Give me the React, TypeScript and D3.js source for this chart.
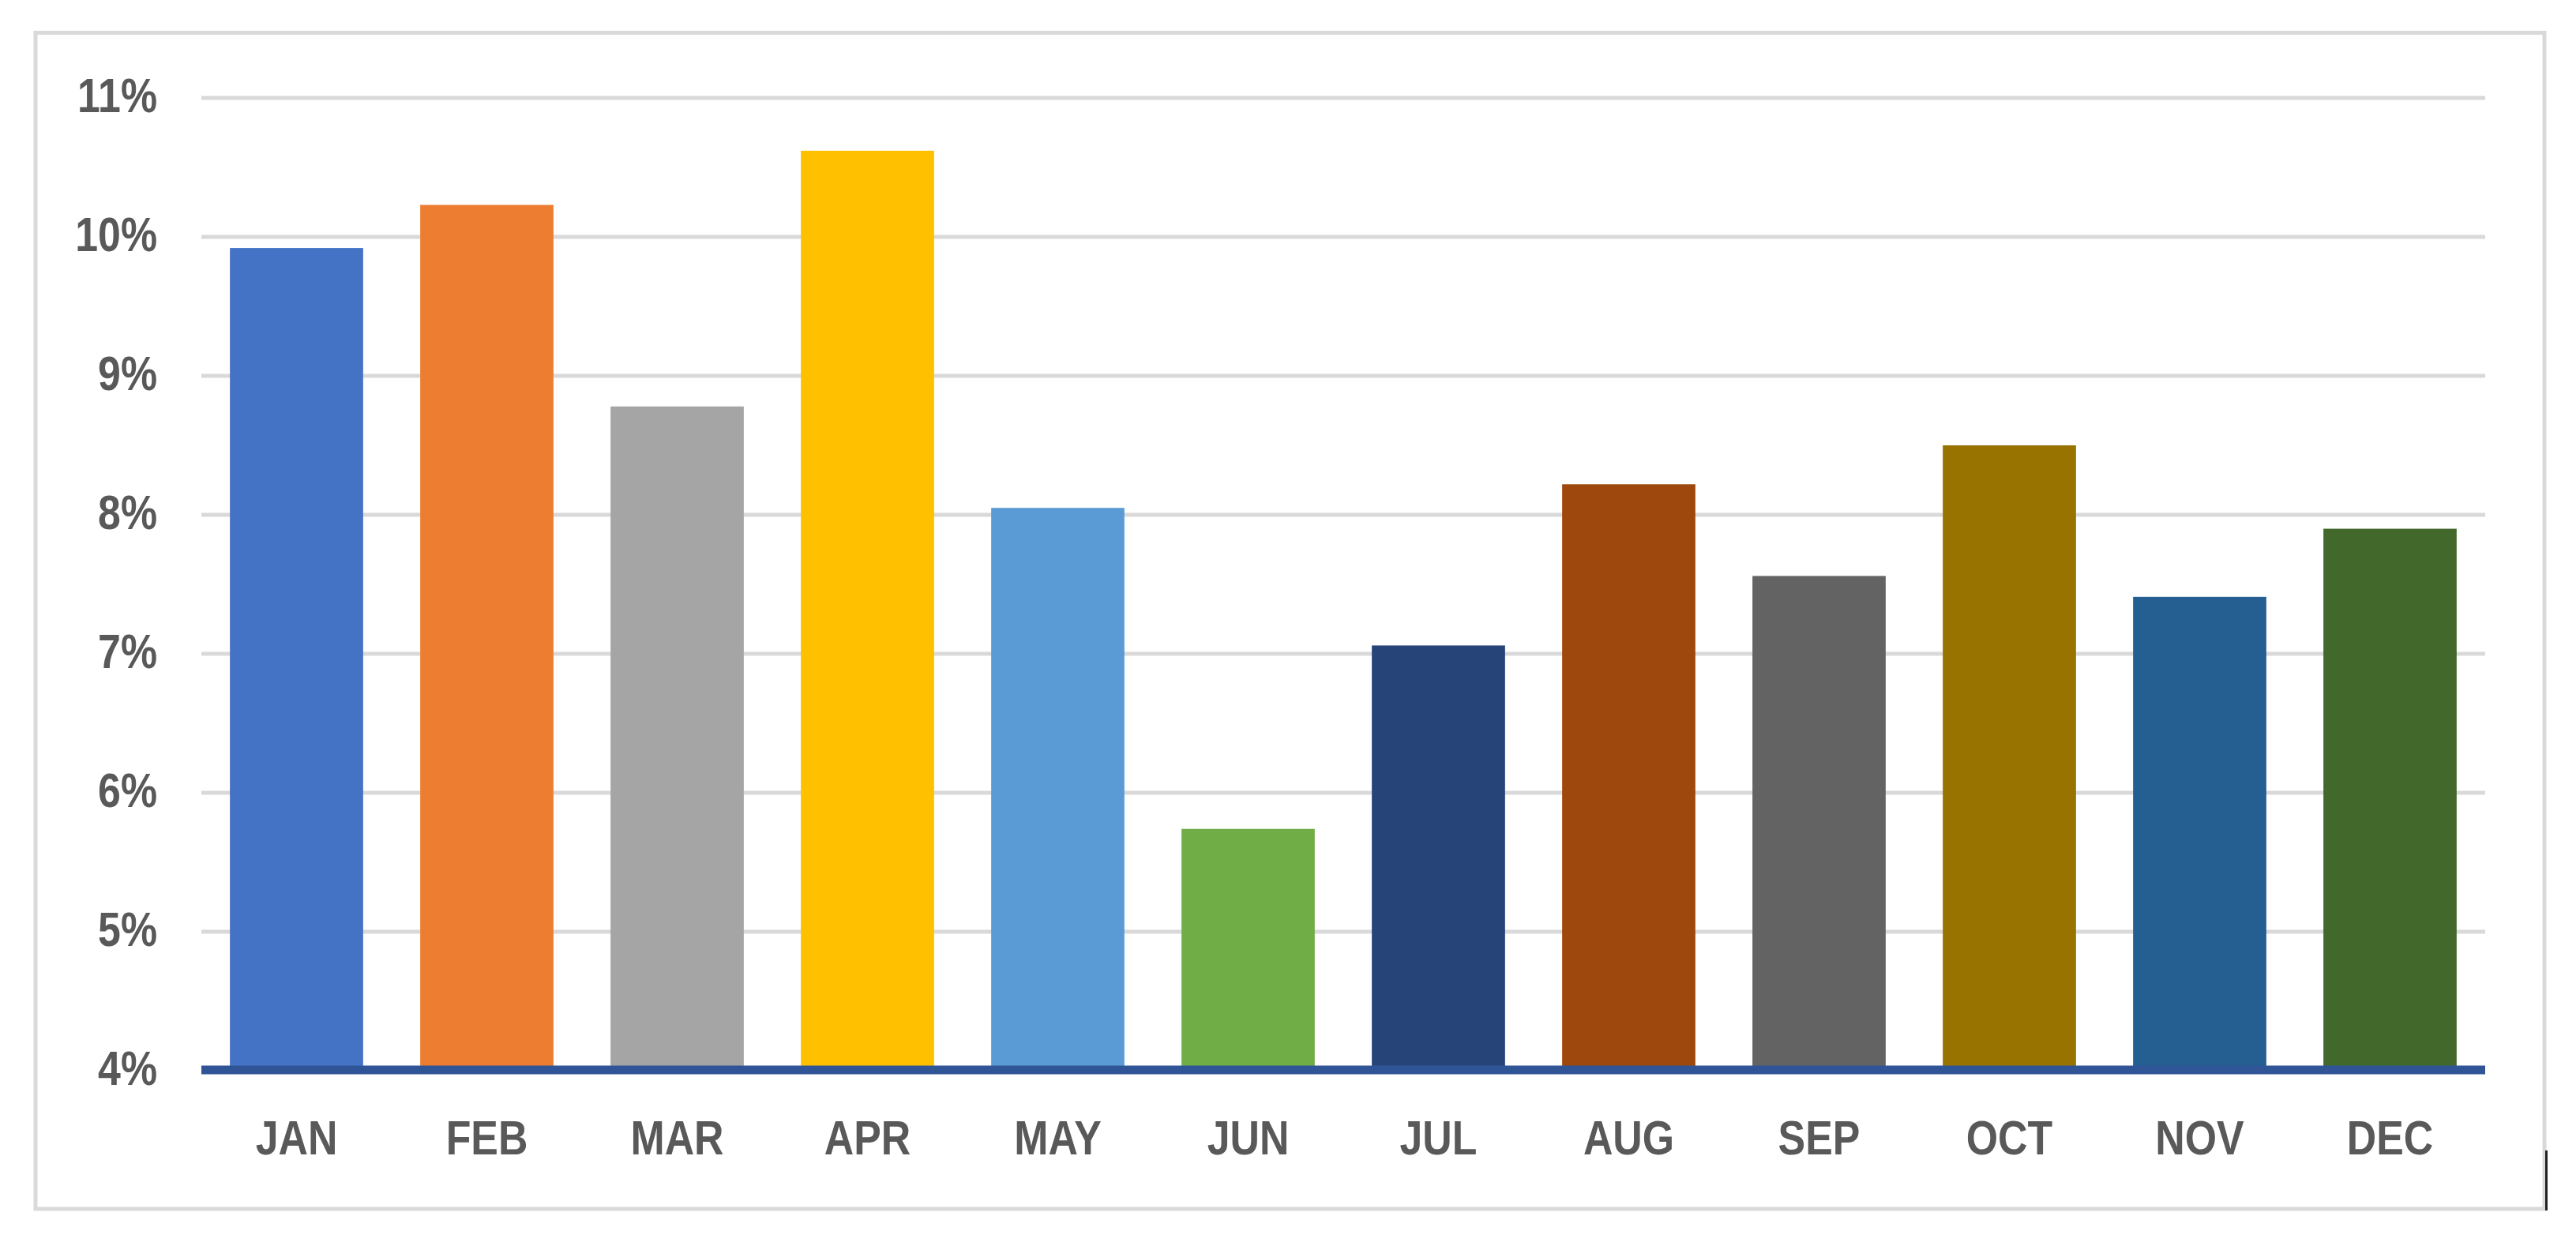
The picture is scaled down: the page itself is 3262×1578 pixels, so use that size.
import React from "react";
import * as d3 from "d3";

const months = ["JAN", "FEB", "MAR", "APR", "MAY", "JUN", "JUL", "AUG", "SEP", "OCT", "NOV", "DEC"];
const values = [9.92, 10.23, 8.78, 10.62, 8.05, 5.74, 7.06, 8.22, 7.56, 8.5, 7.41, 7.9];
const barColors = [
  "#4472C4", "#ED7D31", "#A5A5A5", "#FFC000", "#5B9BD5", "#70AD47",
  "#264478", "#9E480E", "#636363", "#997300", "#255E91", "#43682B",
];
const yTicks = [4, 5, 6, 7, 8, 9, 10, 11];

const W = 3262;
const H = 1578;
const FONT = "'Liberation Sans Narrow', 'Arial Narrow', 'Liberation Sans', Arial, sans-serif";
const NARROW = 0.85;

export default function App() {
  const x = d3.scaleBand<string>().domain(months).range([255, 3147]).paddingInner(0.3).paddingOuter(0.15);
  const y = d3.scaleLinear().domain([4, 11]).range([1356, 124]);
  const [x0, x1] = x.range();

  return (
    <svg width={W} height={H} style={{ position: "absolute", left: 0, top: 0, background: "#fff" }}>
      <rect x={0} y={0} width={W} height={H} fill="#fff" />
      <rect x={45} y={41.5} width={3177} height={1489.5} fill="#fff" stroke="#D9D9D9" strokeWidth={5} />
      <line x1={3224.5} x2={3224.5} y1={1457} y2={1533} stroke="#222" strokeWidth={3} />
      {yTicks.filter((t) => t > 4).map((t) => (
        <line key={"g" + t} x1={x0} x2={x1} y1={y(t)} y2={y(t)} stroke="#D9D9D9" strokeWidth={5} />
      ))}
      {months.map((m, i) => (
        <rect
          key={m}
          x={x(m)}
          y={y(values[i])}
          width={x.bandwidth()}
          height={y(4) - y(values[i])}
          fill={barColors[i]}
        />
      ))}
      <line x1={x0} x2={x1} y1={y(4) - 1} y2={y(4) - 1} stroke="#2F5597" strokeWidth={11} />
      {yTicks.map((t) => (
        <text
          key={"t" + t}
          transform={`translate(199,${y(t) + 18}) scale(${NARROW},1)`}
          textAnchor="end"
          fontFamily={FONT}
          fontWeight="bold"
          fontSize={61}
          fill="#595959"
        >
          {t + "%"}
        </text>
      ))}
      {months.map((m) => (
        <text
          key={"l" + m}
          transform={`translate(${(x(m) as number) + x.bandwidth() / 2},1462) scale(${NARROW},1)`}
          textAnchor="middle"
          fontFamily={FONT}
          fontWeight="bold"
          fontSize={61}
          fill="#595959"
        >
          {m}
        </text>
      ))}
    </svg>
  );
}
